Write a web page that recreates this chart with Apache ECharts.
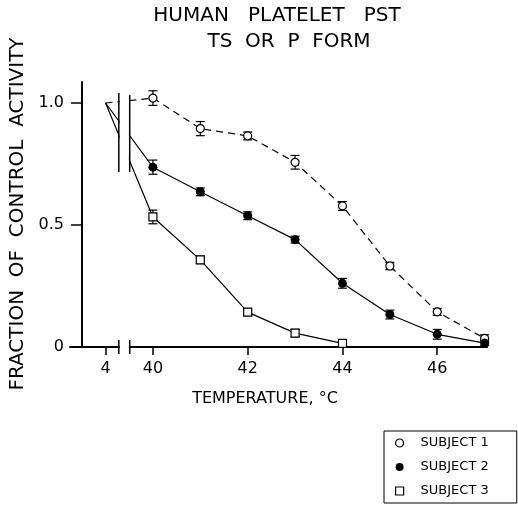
<!DOCTYPE html>
<html>
<head>
<meta charset="utf-8">
<script src="https://cdn.jsdelivr.net/npm/echarts@6/dist/echarts.min.js"></script>
<style>
  html, body { margin: 0; padding: 0; background: #fff; }
  #chart { width: 518px; height: 506px; }
</style>
</head>
<body>
<div id="chart"></div>
<script>
// 数据：温度（°C）与各受试者的残余活性
const temps = [40, 41, 42, 43, 44, 45, 46, 47];
const controlTemp = 4;          // 对照温度，画在断轴左侧
const controlValue = 1.0;

const subject1 = [1.02, 0.895, 0.865, 0.757, 0.578, 0.332, 0.144, 0.035];
const subject1Err = [0.03, 0.029, 0.016, 0.028, 0.018, 0.015, 0.014, 0.015];
const subject2 = [0.737, 0.636, 0.538, 0.440, 0.261, 0.133, 0.052, 0.016];
const subject2Err = [0.029, 0.016, 0.016, 0.014, 0.02, 0.018, 0.02, 0.01];
const subject3 = [0.533, 0.357, 0.143, 0.057, 0.015];
const subject3Err = [0.028, 0.015, 0.014, 0.015, 0];

const xTicks = [4, 40, 42, 44, 46];
const yTicks = [0, 0.5, 1.0];
const names = ['SUBJECT 1', 'SUBJECT 2', 'SUBJECT 3'];

// 断轴：4°C 放在 39 的位置
const CONTROL_POS = 39;
const BREAK_L = 39.28;
const BREAK_R = 39.51;
const FONT = 'DejaVu Sans';

const toPos = t => (t === controlTemp ? CONTROL_POS : t);

function lineData(values) {
  const d = [{ value: [CONTROL_POS, controlValue], symbol: 'none' }];
  values.forEach((v, i) => d.push([temps[i], v]));
  return d;
}

function errData(values, errs) {
  return values.map((v, i) => [temps[i], v - errs[i], v + errs[i]]);
}

function renderErr(params, api) {
  const x = api.value(0);
  const top = api.coord([x, api.value(2)]);
  const bot = api.coord([x, api.value(1)]);
  if (Math.abs(top[1] - bot[1]) < 1) return null;
  const w = 4.5;
  const st = { stroke: '#000', lineWidth: 1.2 };
  return {
    type: 'group',
    children: [
      { type: 'line', shape: { x1: top[0], y1: top[1], x2: bot[0], y2: bot[1] }, style: st },
      { type: 'line', shape: { x1: top[0] - w, y1: top[1], x2: top[0] + w, y2: top[1] }, style: st },
      { type: 'line', shape: { x1: bot[0] - w, y1: bot[1], x2: bot[0] + w, y2: bot[1] }, style: st }
    ]
  };
}

// 断口处的白色遮挡
function renderGap(params, api) {
  const a = api.coord([BREAK_L, 1.08]);
  const b = api.coord([BREAK_R, -0.02]);
  return {
    type: 'rect',
    shape: { x: a[0] + 0.8, y: a[1], width: b[0] - a[0] - 1.6, height: b[1] - a[1] },
    style: { fill: '#fff' }
  };
}

// 断口两侧的竖线
function renderBreak(params, api) {
  const p1 = api.coord([api.value(0), api.value(1)]);
  const p2 = api.coord([api.value(0), api.value(2)]);
  return {
    type: 'line',
    shape: { x1: p1[0], y1: p1[1], x2: p2[0], y2: p2[1] },
    style: { stroke: '#000', lineWidth: 1.5 }
  };
}

const breakMarks = [
  [BREAK_L, 0.717, 1.041],
  [BREAK_R, 0.717, 1.033],
  [BREAK_L, -0.029, 0.029],
  [BREAK_R, -0.029, 0.029]
];

const chart = echarts.init(document.getElementById('chart'));

const option = {
  backgroundColor: '#fff',
  animation: false,
  textStyle: { fontFamily: FONT, color: '#000' },
  graphic: [
    { type: 'text', x: 277, y: 16, style: { text: 'HUMAN   PLATELET   PST', font: '20px "DejaVu Sans"', fill: '#000', align: 'center', verticalAlign: 'middle' } },
    { type: 'text', x: 289, y: 42, style: { text: 'TS  OR  P  FORM', font: '20px "DejaVu Sans"', fill: '#000', align: 'center', verticalAlign: 'middle' } },
    { type: 'text', x: 18, y: 214, rotation: Math.PI / 2, style: { text: 'FRACTION  OF  CONTROL  ACTIVITY', font: '20px "DejaVu Sans"', fill: '#000', align: 'center', verticalAlign: 'middle' } },
    { type: 'text', x: 265, y: 399, style: { text: 'TEMPERATURE, °C', font: '16px "DejaVu Sans"', fill: '#000', align: 'center', verticalAlign: 'middle' } }
  ],
  legend: {
    orient: 'vertical',
    left: 384,
    top: 431,
    padding: [4, 28, 4, 11],
    itemWidth: 8,
    itemHeight: 8,
    itemGap: 8,
    borderColor: '#000',
    borderWidth: 1,
    textStyle: { fontFamily: FONT, fontSize: 13, color: '#000', padding: [0, 0, 0, 12], lineHeight: 16 },
    data: [
      { name: names[0], icon: 'circle', itemStyle: { color: '#fff', borderColor: '#000', borderWidth: 1.2 } },
      { name: names[1], icon: 'circle', itemStyle: { color: '#000', borderColor: '#000', borderWidth: 0 } },
      { name: names[2], icon: 'rect', itemStyle: { color: '#fff', borderColor: '#000', borderWidth: 1.2 } }
    ]
  },
  grid: { left: 70, right: 31, top: 82, bottom: 159, containLabel: false },
  xAxis: {
    type: 'value',
    min: 38.25,
    max: 47.05,
    splitLine: { show: false },
    axisLine: { lineStyle: { color: '#000', width: 2 } },
    axisTick: { length: 8, lineStyle: { color: '#000', width: 1.5 }, customValues: xTicks.map(toPos) },
    axisLabel: {
      customValues: xTicks.map(toPos),
      margin: 14,
      fontSize: 16,
      fontFamily: FONT,
      color: '#000',
      formatter: v => (v === CONTROL_POS ? String(controlTemp) : String(v))
    }
  },
  yAxis: {
    type: 'value',
    min: 0,
    max: 1.086,
    offset: -12,
    splitLine: { show: false },
    axisLine: { lineStyle: { color: '#000', width: 2 } },
    axisTick: { length: 11, lineStyle: { color: '#000', width: 1.5 }, customValues: yTicks },
    axisLabel: {
      customValues: yTicks,
      margin: 18,
      fontSize: 16,
      fontFamily: FONT,
      color: '#000',
      formatter: v => (v === 0 ? '0' : v.toFixed(1))
    }
  },
  series: [
    { type: 'custom', name: 'err1', z: 1, clip: false, renderItem: renderErr, data: errData(subject1, subject1Err) },
    { type: 'custom', name: 'err2', z: 1, clip: false, renderItem: renderErr, data: errData(subject2, subject2Err) },
    { type: 'custom', name: 'err3', z: 1, clip: false, renderItem: renderErr, data: errData(subject3, subject3Err) },
    {
      name: names[0], type: 'line', z: 2, data: lineData(subject1),
      symbol: 'circle', symbolSize: 8,
      lineStyle: { color: '#000', width: 1.2, type: [7, 5] },
      itemStyle: { color: '#fff', borderColor: '#000', borderWidth: 1.2 }
    },
    {
      name: names[1], type: 'line', z: 2, data: lineData(subject2),
      symbol: 'circle', symbolSize: 9,
      lineStyle: { color: '#000', width: 1.2 },
      itemStyle: { color: '#000', borderColor: '#000', borderWidth: 0 }
    },
    {
      name: names[2], type: 'line', z: 2, data: lineData(subject3),
      symbol: 'rect', symbolSize: 8,
      lineStyle: { color: '#000', width: 1.2 },
      itemStyle: { color: '#fff', borderColor: '#000', borderWidth: 1.2 }
    },
    { type: 'custom', name: 'gap', z: 10, clip: false, silent: true, renderItem: renderGap, data: [[BREAK_L]] },
    { type: 'custom', name: 'breaks', z: 11, clip: false, silent: true, renderItem: renderBreak, data: breakMarks }
  ]
};

chart.setOption(option);
</script>
</body>
</html>
